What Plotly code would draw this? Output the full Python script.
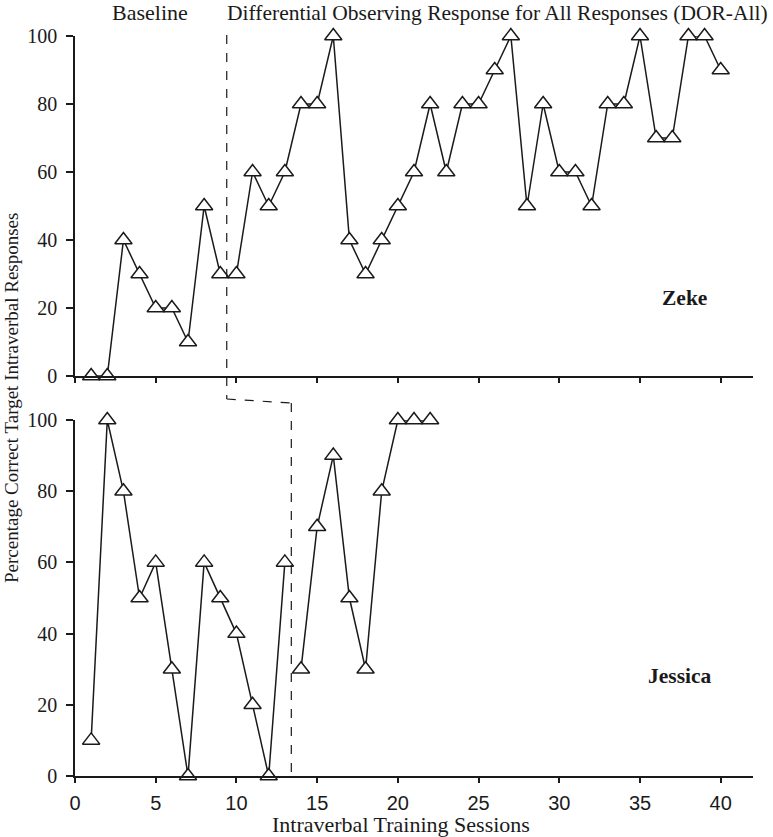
import plotly.graph_objects as go

# ---- data ----
zeke_sessions = list(range(1, 41))
zeke_values = [0, 0, 40, 30, 20, 20, 10, 50, 30,
               30, 60, 50, 60, 80, 80, 100, 40, 30, 40, 50,
               60, 80, 60, 80, 80, 90, 100, 50, 80, 60,
               60, 50, 80, 80, 100, 70, 70, 100, 100, 90]
zeke_baseline_n = 9

jessica_sessions = list(range(1, 23))
jessica_values = [10, 100, 80, 50, 60, 30, 0, 60, 50, 40, 20, 0, 60,
                  30, 70, 90, 50, 30, 80, 100, 100, 100]
jessica_baseline_n = 13

phase_change_x = [9.4, 13.4]   # Zeke, Jessica
x_ticks = [0, 5, 10, 15, 20, 25, 30, 35, 40]
y_ticks = [0, 20, 40, 60, 80, 100]

SERIF = "Liberation Serif, Times New Roman, serif"
SANS = "Liberation Sans Narrow, Arial Narrow, Liberation Sans, Arial, sans-serif"

W, H = 773, 837
ML, MR, MT = 75, 20, 36
PLOT_BOTTOM = 776
MB = H - PLOT_BOTTOM
PW, PH = W - ML - MR, H - MT - MB

def px_x(px):  # window pixel -> paper x
    return (px - ML) / PW

def px_y(py):  # window pixel -> paper y
    return (PLOT_BOTTOM - py) / PH

fig = go.Figure()

marker = dict(symbol="triangle-up", size=15, color="white",
              line=dict(color="#1a1a1a", width=1.5))
line = dict(color="#1a1a1a", width=1.5)

def add_series(xs, ys, xa, ya):
    fig.add_trace(go.Scatter(x=xs, y=ys, mode="lines+markers", marker=marker,
                             line=line, xaxis=xa, yaxis=ya, cliponaxis=False,
                             showlegend=False))

# Zeke (top panel)
add_series(zeke_sessions[:zeke_baseline_n], zeke_values[:zeke_baseline_n], "x2", "y2")
add_series(zeke_sessions[zeke_baseline_n:], zeke_values[zeke_baseline_n:], "x2", "y2")
# Jessica (bottom panel)
add_series(jessica_sessions[:jessica_baseline_n], jessica_values[:jessica_baseline_n], "x", "y")
add_series(jessica_sessions[jessica_baseline_n:], jessica_values[jessica_baseline_n:], "x", "y")

axis_common = dict(showgrid=False, zeroline=False, showline=True,
                   linecolor="#1a1a1a", linewidth=1.5, ticks="outside",
                   tickcolor="#1a1a1a", tickwidth=1.5)

top_lo, top_hi = px_y(376), px_y(36)
bot_lo, bot_hi = px_y(776), px_y(420)

fig.update_layout(
    width=W, height=H,
    margin=dict(l=ML, r=MR, t=MT, b=MB, autoexpand=False),
    plot_bgcolor="white", paper_bgcolor="white",
    xaxis=dict(**axis_common, domain=[0, 1], anchor="y", range=[0, 42],
               tickvals=x_ticks, ticklen=5, ticklabelstandoff=3,
               tickfont=dict(family=SANS, size=20, color="#1a1a1a")),
    xaxis2=dict(**axis_common, domain=[0, 1], anchor="y2", range=[0, 42],
                tickvals=x_ticks, ticklen=5, showticklabels=False, matches="x"),
    yaxis=dict(**axis_common, domain=[bot_lo, bot_hi], anchor="x", range=[0, 100],
               tickvals=y_ticks, ticklen=7, ticklabelstandoff=5,
               tickfont=dict(family=SERIF, size=20, color="#1a1a1a")),
    yaxis2=dict(**axis_common, domain=[top_lo, top_hi], anchor="x2", range=[0, 100],
                tickvals=y_ticks, ticklen=7, ticklabelstandoff=5,
                tickfont=dict(family=SERIF, size=20, color="#1a1a1a")),
)

# Phase-change dashed line
dash = dict(color="#1a1a1a", width=1.2, dash="dash")
zx, jx = phase_change_x
fig.add_shape(type="line", xref="x", yref="paper", x0=zx, x1=zx, y0=px_y(35), y1=px_y(399), line=dash)
fig.add_shape(type="line", xref="x", yref="paper", x0=zx, x1=jx, y0=px_y(399), y1=px_y(403), line=dash)
fig.add_shape(type="line", xref="x", yref="paper", x0=jx, x1=jx, y0=px_y(403), y1=px_y(776), line=dash)

# Text
def label(text, x, y, size=22, angle=0):
    fig.add_annotation(text=text, x=px_x(x), y=px_y(y), xref="paper", yref="paper",
                       xanchor="center", yanchor="middle", showarrow=False,
                       textangle=angle,
                       font=dict(family=SERIF, size=size, color="#1a1a1a"))

label("Baseline", 150, 13)
label("Differential Observing Response for All Responses (DOR-All)", 497, 13, size=21.5)
label("<b>Zeke</b>", 684, 298, size=21.5)
label("<b>Jessica</b>", 680, 676, size=21.5)
label("Intraverbal Training Sessions", 401, 824)
label("Percentage Correct Target Intraverbal Responses", 11, 398, size=19, angle=-90)

# remove the default 8px page margin so the figure fills the window
fig.write_html("out.html", config={"displayModeBar": False},
               post_script="document.body.style.margin='0';")
